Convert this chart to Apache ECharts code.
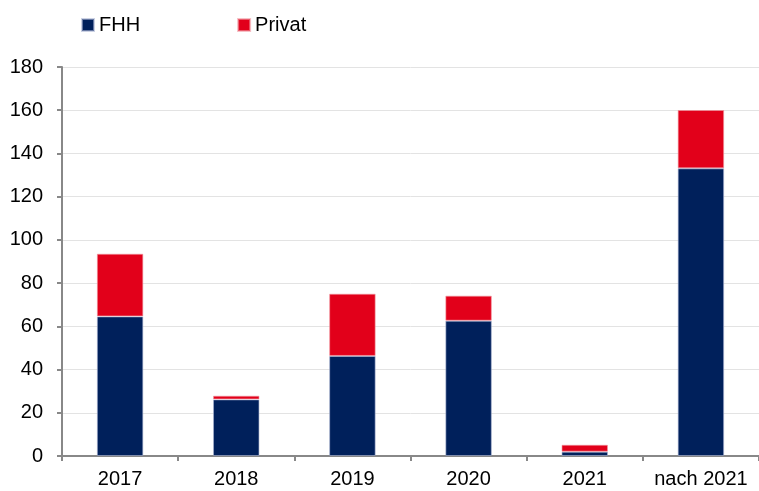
<!DOCTYPE html>
<html>
<head>
<meta charset="utf-8">
<script src="https://cdn.jsdelivr.net/npm/echarts@6/dist/echarts.min.js"></script>
<style>
  html, body { margin: 0; padding: 0; background: #fff; }
  #chart { width: 759px; height: 491px; }
</style>
</head>
<body>
<div id="chart"></div>
<script>
// values
var categories = ['2017', '2018', '2019', '2020', '2021', 'nach 2021'];
var fhh = [64.6, 26.2, 46.3, 62.6, 2.0, 133.1];
var privat = [29.0, 1.7, 28.8, 11.6, 3.2, 27.0];
var yTicks = [0, 20, 40, 60, 80, 100, 120, 140, 160, 180];

var myChart = echarts.init(document.getElementById('chart'));
myChart.setOption({
    animation: false,
    textStyle: { fontFamily: 'Liberation Sans, Arial, sans-serif' },
    legend: {
        top: 10,
        left: 76,
        itemWidth: 12,
        itemHeight: 12,
        itemGap: 97,
        icon: 'rect',
        textStyle: { fontSize: 20, color: '#000' },
        data: ['FHH', 'Privat']
    },
    grid: { left: 62, right: -7, top: 67, bottom: 35 },
    xAxis: {
        type: 'category',
        data: categories,
        axisLine: { lineStyle: { color: '#888', width: 2 } },
        axisTick: { show: true, interval: 0, length: 5, lineStyle: { color: '#888', width: 2 } },
        axisLabel: { interval: 0, fontSize: 20, color: '#000', margin: 13 }
    },
    yAxis: {
        type: 'value',
        min: yTicks[0],
        max: yTicks[yTicks.length - 1],
        interval: 20,
        axisLine: { show: true, lineStyle: { color: '#888', width: 2 } },
        axisTick: { show: true, length: 5, lineStyle: { color: '#888', width: 2 } },
        axisLabel: { fontSize: 20, color: '#000', margin: 19 },
        splitLine: { lineStyle: { color: '#e3e3e3', width: 1 } }
    },
    series: [
        {
            name: 'FHH',
            type: 'bar',
            stack: 'total',
            barWidth: '40%',
            data: fhh,
            itemStyle: { color: '#00205B', borderColor: 'rgba(170,180,210,0.6)', borderWidth: 1 }
        },
        {
            name: 'Privat',
            type: 'bar',
            stack: 'total',
            barWidth: '40%',
            data: privat,
            itemStyle: { color: '#E2001A', borderColor: 'rgba(240,150,160,0.6)', borderWidth: 1 }
        }
    ]
});
</script>
</body>
</html>
